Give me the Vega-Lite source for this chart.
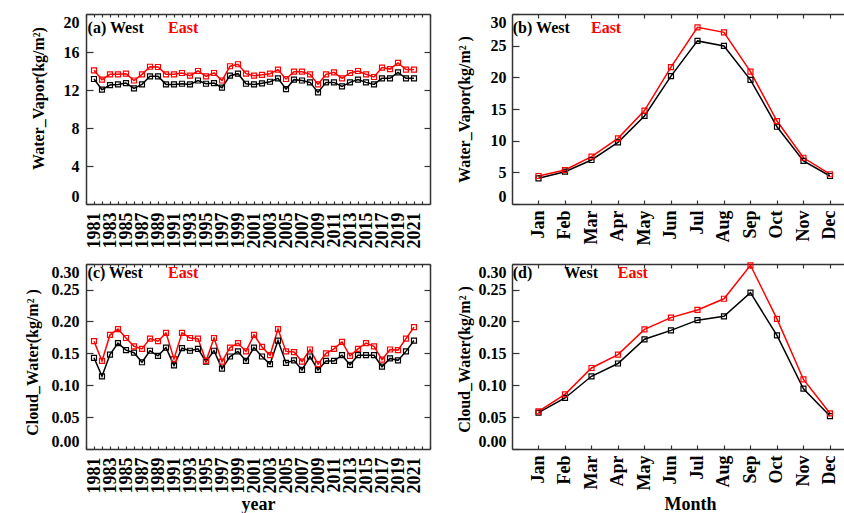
{
  "$schema": "https://vega.github.io/schema/vega-lite/v6.json",
  "padding": {"left": 23, "top": 13, "right": 0, "bottom": 0},
  "background": "white",
  "config": {
    "view": {"stroke": null},
    "font": "Liberation Serif",
    "axis": {
      "labelFont": "Liberation Serif", "labelFontWeight": "bold", "labelFontSize": 16, "labelColor": "black",
      "titleFont": "Liberation Serif", "titleFontWeight": "bold", "titleFontSize": 16, "titleColor": "black",
      "domainColor": "#333333", "domainWidth": 1.5, "tickColor": "#333333", "tickWidth": 1.2,
      "grid": false, "labelOverlap": false, "labelBound": false
    }
  },
  "datasets": {
    "annual": [
      {"year": 1981, "region": "West", "wv": 13.16, "cw": 0.143}, {"year": 1981, "region": "East", "wv": 14.07, "cw": 0.169},
      {"year": 1982, "region": "West", "wv": 12.03, "cw": 0.114}, {"year": 1982, "region": "East", "wv": 13.09, "cw": 0.138},
      {"year": 1983, "region": "West", "wv": 12.52, "cw": 0.148}, {"year": 1983, "region": "East", "wv": 13.65, "cw": 0.179},
      {"year": 1984, "region": "West", "wv": 12.59, "cw": 0.166}, {"year": 1984, "region": "East", "wv": 13.65, "cw": 0.188},
      {"year": 1985, "region": "West", "wv": 12.73, "cw": 0.155}, {"year": 1985, "region": "East", "wv": 13.72, "cw": 0.174},
      {"year": 1986, "region": "West", "wv": 12.17, "cw": 0.151}, {"year": 1986, "region": "East", "wv": 13.0, "cw": 0.161},
      {"year": 1987, "region": "West", "wv": 12.59, "cw": 0.136}, {"year": 1987, "region": "East", "wv": 13.65, "cw": 0.157},
      {"year": 1988, "region": "West", "wv": 13.44, "cw": 0.154}, {"year": 1988, "region": "East", "wv": 14.45, "cw": 0.173},
      {"year": 1989, "region": "West", "wv": 13.44, "cw": 0.146}, {"year": 1989, "region": "East", "wv": 14.42, "cw": 0.169},
      {"year": 1990, "region": "West", "wv": 12.59, "cw": 0.159}, {"year": 1990, "region": "East", "wv": 13.65, "cw": 0.182},
      {"year": 1991, "region": "West", "wv": 12.59, "cw": 0.131}, {"year": 1991, "region": "East", "wv": 13.65, "cw": 0.141},
      {"year": 1992, "region": "West", "wv": 12.66, "cw": 0.158}, {"year": 1992, "region": "East", "wv": 13.79, "cw": 0.182},
      {"year": 1993, "region": "West", "wv": 12.59, "cw": 0.154}, {"year": 1993, "region": "East", "wv": 13.51, "cw": 0.174},
      {"year": 1994, "region": "West", "wv": 13.0, "cw": 0.157}, {"year": 1994, "region": "East", "wv": 14.0, "cw": 0.173},
      {"year": 1995, "region": "West", "wv": 12.66, "cw": 0.137}, {"year": 1995, "region": "East", "wv": 13.44, "cw": 0.138},
      {"year": 1996, "region": "West", "wv": 12.73, "cw": 0.154}, {"year": 1996, "region": "East", "wv": 13.79, "cw": 0.174},
      {"year": 1997, "region": "West", "wv": 12.24, "cw": 0.126}, {"year": 1997, "region": "East", "wv": 13.0, "cw": 0.137},
      {"year": 1998, "region": "West", "wv": 13.51, "cw": 0.145}, {"year": 1998, "region": "East", "wv": 14.5, "cw": 0.159},
      {"year": 1999, "region": "West", "wv": 13.72, "cw": 0.153}, {"year": 1999, "region": "East", "wv": 14.71, "cw": 0.166},
      {"year": 2000, "region": "West", "wv": 12.66, "cw": 0.138}, {"year": 2000, "region": "East", "wv": 13.72, "cw": 0.153},
      {"year": 2001, "region": "West", "wv": 12.59, "cw": 0.159}, {"year": 2001, "region": "East", "wv": 13.51, "cw": 0.179},
      {"year": 2002, "region": "West", "wv": 12.7, "cw": 0.145}, {"year": 2002, "region": "East", "wv": 13.6, "cw": 0.16},
      {"year": 2003, "region": "West", "wv": 12.87, "cw": 0.133}, {"year": 2003, "region": "East", "wv": 13.72, "cw": 0.147},
      {"year": 2004, "region": "West", "wv": 13.23, "cw": 0.170}, {"year": 2004, "region": "East", "wv": 14.15, "cw": 0.188},
      {"year": 2005, "region": "West", "wv": 12.1, "cw": 0.135}, {"year": 2005, "region": "East", "wv": 13.16, "cw": 0.153},
      {"year": 2006, "region": "West", "wv": 13.09, "cw": 0.139}, {"year": 2006, "region": "East", "wv": 13.93, "cw": 0.152},
      {"year": 2007, "region": "West", "wv": 13.0, "cw": 0.124}, {"year": 2007, "region": "East", "wv": 13.93, "cw": 0.137},
      {"year": 2008, "region": "West", "wv": 12.8, "cw": 0.145}, {"year": 2008, "region": "East", "wv": 13.65, "cw": 0.156},
      {"year": 2009, "region": "West", "wv": 11.75, "cw": 0.124}, {"year": 2009, "region": "East", "wv": 12.6, "cw": 0.133},
      {"year": 2010, "region": "West", "wv": 12.8, "cw": 0.138}, {"year": 2010, "region": "East", "wv": 13.65, "cw": 0.150},
      {"year": 2011, "region": "West", "wv": 12.8, "cw": 0.138}, {"year": 2011, "region": "East", "wv": 13.86, "cw": 0.157},
      {"year": 2012, "region": "West", "wv": 12.38, "cw": 0.147}, {"year": 2012, "region": "East", "wv": 13.23, "cw": 0.168},
      {"year": 2013, "region": "West", "wv": 12.8, "cw": 0.132}, {"year": 2013, "region": "East", "wv": 13.79, "cw": 0.146},
      {"year": 2014, "region": "West", "wv": 13.09, "cw": 0.147}, {"year": 2014, "region": "East", "wv": 14.0, "cw": 0.157},
      {"year": 2015, "region": "West", "wv": 12.8, "cw": 0.147}, {"year": 2015, "region": "East", "wv": 13.65, "cw": 0.166},
      {"year": 2016, "region": "West", "wv": 12.59, "cw": 0.147}, {"year": 2016, "region": "East", "wv": 13.37, "cw": 0.161},
      {"year": 2017, "region": "West", "wv": 13.23, "cw": 0.129}, {"year": 2017, "region": "East", "wv": 14.36, "cw": 0.140},
      {"year": 2018, "region": "West", "wv": 13.23, "cw": 0.142}, {"year": 2018, "region": "East", "wv": 14.2, "cw": 0.156},
      {"year": 2019, "region": "West", "wv": 13.86, "cw": 0.139}, {"year": 2019, "region": "East", "wv": 14.85, "cw": 0.155},
      {"year": 2020, "region": "West", "wv": 13.23, "cw": 0.153}, {"year": 2020, "region": "East", "wv": 14.15, "cw": 0.173},
      {"year": 2021, "region": "West", "wv": 13.23, "cw": 0.170}, {"year": 2021, "region": "East", "wv": 14.15, "cw": 0.191}
    ],
    "monthly": [
      {"m": 1, "region": "West", "wv": 4.05, "cw": 0.057}, {"m": 1, "region": "East", "wv": 4.42, "cw": 0.059},
      {"m": 2, "region": "West", "wv": 5.1, "cw": 0.080}, {"m": 2, "region": "East", "wv": 5.37, "cw": 0.0856},
      {"m": 3, "region": "West", "wv": 6.95, "cw": 0.114}, {"m": 3, "region": "East", "wv": 7.48, "cw": 0.127},
      {"m": 4, "region": "West", "wv": 9.74, "cw": 0.134}, {"m": 4, "region": "East", "wv": 10.37, "cw": 0.148},
      {"m": 5, "region": "West", "wv": 13.9, "cw": 0.172}, {"m": 5, "region": "East", "wv": 14.75, "cw": 0.1875},
      {"m": 6, "region": "West", "wv": 20.2, "cw": 0.186}, {"m": 6, "region": "East", "wv": 21.6, "cw": 0.206},
      {"m": 7, "region": "West", "wv": 25.75, "cw": 0.202}, {"m": 7, "region": "East", "wv": 27.9, "cw": 0.218},
      {"m": 8, "region": "West", "wv": 24.96, "cw": 0.208}, {"m": 8, "region": "East", "wv": 27.1, "cw": 0.2355},
      {"m": 9, "region": "West", "wv": 19.6, "cw": 0.245}, {"m": 9, "region": "East", "wv": 20.9, "cw": 0.288},
      {"m": 10, "region": "West", "wv": 12.2, "cw": 0.178}, {"m": 10, "region": "East", "wv": 13.1, "cw": 0.204},
      {"m": 11, "region": "West", "wv": 6.8, "cw": 0.0945}, {"m": 11, "region": "East", "wv": 7.3, "cw": 0.109},
      {"m": 12, "region": "West", "wv": 4.42, "cw": 0.0516}, {"m": 12, "region": "East", "wv": 4.7, "cw": 0.056}
    ]
  },
  "columns": 2,
  "spacing": {"row": 60, "column": 82},
  "bounds": "flush",
  "concat": [
    {
      "width": 344, "height": 190,
      "data": {"name": "annual"},
      "layer": [
        {
          "mark": {"type": "line", "strokeWidth": 1.5, "point": {"shape": "square", "filled": false, "size": 25, "strokeWidth": 1.2}},
          "encoding": {
            "x": {"field": "year", "type": "quantitative", "scale": {"domain": [1980, 2023], "nice": false, "zero": false},
              "axis": {"orient": "bottom", "title": null, "values": [1980,1981,1982,1983,1984,1985,1986,1987,1988,1989,1990,1991,1992,1993,1994,1995,1996,1997,1998,1999,2000,2001,2002,2003,2004,2005,2006,2007,2008,2009,2010,2011,2012,2013,2014,2015,2016,2017,2018,2019,2020,2021,2022,2023],
                "labelExpr": "(datum.value % 2 == 1 && datum.value <= 2021) ? '' + datum.value : ''", "labelAngle": -90, "tickSize": -3, "labelPadding": 11, "labelFontSize": 18}},
            "y": {"field": "wv", "type": "quantitative", "scale": {"domain": [0, 20], "nice": false, "zero": false},
              "axis": {"orient": "left", "title": "Water_Vapor(kg/m²)", "values": [0, 4, 8, 12, 16, 20], "format": "d", "tickSize": -7, "labelPadding": 14, "labelFlush": true,
                "titleX": -43, "titleY": 84, "titleBaseline": "alphabetic", "titleAlign": "center"}},
            "color": {"field": "region", "type": "nominal", "scale": {"domain": ["West", "East"], "range": ["#000000", "#ff0000"]}, "legend": null}
          }
        },
        {
          "mark": {"type": "point", "opacity": 0},
          "encoding": {
            "x": {"field": "year", "type": "quantitative", "scale": {"domain": [1980, 2023], "nice": false, "zero": false},
              "axis": {"orient": "top", "title": null, "labels": false, "tickSize": -3, "values": [1980,1981,1982,1983,1984,1985,1986,1987,1988,1989,1990,1991,1992,1993,1994,1995,1996,1997,1998,1999,2000,2001,2002,2003,2004,2005,2006,2007,2008,2009,2010,2011,2012,2013,2014,2015,2016,2017,2018,2019,2020,2021,2022,2023]}},
            "y": {"field": "wv", "type": "quantitative", "scale": {"domain": [0, 20], "nice": false, "zero": false},
              "axis": {"orient": "right", "title": null, "labels": false, "tickSize": -6, "values": [4, 8, 12, 16]}}
          }
        },
        {
          "data": {"values": [{"t": "(a) West"}]},
          "mark": {"type": "text", "align": "left", "baseline": "alphabetic", "font": "Liberation Serif", "fontSize": 16, "fontWeight": "bold", "color": "black"},
          "encoding": {"text": {"field": "t"}, "x": {"datum": 1980.2, "axis": null}, "y": {"datum": 18.03, "axis": null}}
        },
        {
          "data": {"values": [{"t": "East"}]},
          "mark": {"type": "text", "align": "left", "baseline": "alphabetic", "font": "Liberation Serif", "fontSize": 16, "fontWeight": "bold", "color": "#ff0000"},
          "encoding": {"text": {"field": "t"}, "x": {"datum": 1990.25, "axis": null}, "y": {"datum": 18.03, "axis": null}}
        }
      ],
      "resolve": {"axis": {"x": "independent", "y": "independent"}}
    },
    {
      "width": 332, "height": 190,
      "data": {"name": "monthly"},
      "layer": [
        {
          "mark": {"type": "line", "strokeWidth": 1.5, "point": {"shape": "square", "filled": false, "size": 25, "strokeWidth": 1.2}},
          "encoding": {
            "x": {"field": "m", "type": "quantitative", "scale": {"domain": [0, 12.53], "nice": false, "zero": false},
              "axis": {"orient": "bottom", "title": null, "values": [1,2,3,4,5,6,7,8,9,10,11,12],
                "labelExpr": "['','Jan','Feb','Mar','Apr','May','Jun','Jul','Aug','Sep','Oct','Nov','Dec'][datum.value]", "labelAngle": -90, "tickSize": -4, "labelPadding": 10, "labelFontSize": 18}},
            "y": {"field": "wv", "type": "quantitative", "scale": {"domain": [0, 30], "nice": false, "zero": false},
              "axis": {"orient": "left", "title": "Water_Vapor(kg/m² )", "values": [0, 5, 10, 15, 20, 25, 30], "format": "d", "tickSize": -7, "labelPadding": 13, "labelFlush": true,
                "titleX": -43, "titleY": 95, "titleBaseline": "alphabetic", "titleAlign": "center"}},
            "color": {"field": "region", "type": "nominal", "scale": {"domain": ["West", "East"], "range": ["#000000", "#ff0000"]}, "legend": null}
          }
        },
        {
          "mark": {"type": "point", "opacity": 0},
          "encoding": {
            "x": {"field": "m", "type": "quantitative", "scale": {"domain": [0, 12.53], "nice": false, "zero": false},
              "axis": {"orient": "top", "title": null, "labels": false, "tickSize": -4, "values": [1,2,3,4,5,6,7,8,9,10,11,12]}},
            "y": {"field": "wv", "type": "quantitative", "scale": {"domain": [0, 30], "nice": false, "zero": false}, "axis": null}
          }
        },
        {
          "data": {"values": [{"t": "(b) West"}]},
          "mark": {"type": "text", "align": "left", "baseline": "alphabetic", "font": "Liberation Serif", "fontSize": 16, "fontWeight": "bold", "color": "black"},
          "encoding": {"text": {"field": "t"}, "x": {"datum": 0.03, "axis": null}, "y": {"datum": 27.05, "axis": null}}
        },
        {
          "data": {"values": [{"t": "East"}]},
          "mark": {"type": "text", "align": "left", "baseline": "alphabetic", "font": "Liberation Serif", "fontSize": 16, "fontWeight": "bold", "color": "#ff0000"},
          "encoding": {"text": {"field": "t"}, "x": {"datum": 2.98, "axis": null}, "y": {"datum": 27.05, "axis": null}}
        }
      ],
      "resolve": {"axis": {"x": "independent", "y": "independent"}}
    },
    {
      "width": 344, "height": 185,
      "data": {"name": "annual"},
      "layer": [
        {
          "mark": {"type": "line", "strokeWidth": 1.5, "point": {"shape": "square", "filled": false, "size": 25, "strokeWidth": 1.2}},
          "encoding": {
            "x": {"field": "year", "type": "quantitative", "scale": {"domain": [1980, 2023], "nice": false, "zero": false},
              "axis": {"orient": "bottom", "title": "year", "values": [1980,1981,1982,1983,1984,1985,1986,1987,1988,1989,1990,1991,1992,1993,1994,1995,1996,1997,1998,1999,2000,2001,2002,2003,2004,2005,2006,2007,2008,2009,2010,2011,2012,2013,2014,2015,2016,2017,2018,2019,2020,2021,2022,2023],
                "labelExpr": "(datum.value % 2 == 1 && datum.value <= 2021) ? '' + datum.value : ''", "labelAngle": -90, "tickSize": -3, "labelPadding": 11, "labelFontSize": 18,
                "titleX": 172, "titleY": 60, "titleBaseline": "alphabetic", "titleAlign": "center", "titleFontSize": 18}},
            "y": {"field": "cw", "type": "quantitative", "scale": {"domain": [0, 0.29], "nice": false, "zero": false},
              "axis": {"orient": "left", "title": "Cloud_Water(kg/m² )", "values": [0, 0.05, 0.1, 0.15, 0.2, 0.25, 0.29],
                "labelExpr": "datum.value > 0.28 ? '0.30' : format(datum.value, '.2f')", "tickSize": -7, "labelPadding": 14, "labelFlush": true,
                "titleX": -49, "titleY": 98, "titleBaseline": "alphabetic", "titleAlign": "center"}},
            "color": {"field": "region", "type": "nominal", "scale": {"domain": ["West", "East"], "range": ["#000000", "#ff0000"]}, "legend": null}
          }
        },
        {
          "mark": {"type": "point", "opacity": 0},
          "encoding": {
            "x": {"field": "year", "type": "quantitative", "scale": {"domain": [1980, 2023], "nice": false, "zero": false},
              "axis": {"orient": "top", "title": null, "labels": false, "tickSize": -3, "values": [1980,1981,1982,1983,1984,1985,1986,1987,1988,1989,1990,1991,1992,1993,1994,1995,1996,1997,1998,1999,2000,2001,2002,2003,2004,2005,2006,2007,2008,2009,2010,2011,2012,2013,2014,2015,2016,2017,2018,2019,2020,2021,2022,2023]}},
            "y": {"field": "cw", "type": "quantitative", "scale": {"domain": [0, 0.29], "nice": false, "zero": false},
              "axis": {"orient": "right", "title": null, "labels": false, "tickSize": -6, "values": [0.05, 0.1, 0.15, 0.2, 0.25]}}
          }
        },
        {
          "data": {"values": [{"t": "(c) West"}]},
          "mark": {"type": "text", "align": "left", "baseline": "alphabetic", "font": "Liberation Serif", "fontSize": 16, "fontWeight": "bold", "color": "black"},
          "encoding": {"text": {"field": "t"}, "x": {"datum": 1980.2, "axis": null}, "y": {"datum": 0.2676, "axis": null}}
        },
        {
          "data": {"values": [{"t": "East"}]},
          "mark": {"type": "text", "align": "left", "baseline": "alphabetic", "font": "Liberation Serif", "fontSize": 16, "fontWeight": "bold", "color": "#ff0000"},
          "encoding": {"text": {"field": "t"}, "x": {"datum": 1990.25, "axis": null}, "y": {"datum": 0.2676, "axis": null}}
        }
      ],
      "resolve": {"axis": {"x": "independent", "y": "independent"}}
    },
    {
      "width": 332, "height": 185,
      "data": {"name": "monthly"},
      "layer": [
        {
          "mark": {"type": "line", "strokeWidth": 1.5, "point": {"shape": "square", "filled": false, "size": 25, "strokeWidth": 1.2}},
          "encoding": {
            "x": {"field": "m", "type": "quantitative", "scale": {"domain": [0, 12.53], "nice": false, "zero": false},
              "axis": {"orient": "bottom", "title": "Month", "values": [1,2,3,4,5,6,7,8,9,10,11,12],
                "labelExpr": "['','Jan','Feb','Mar','Apr','May','Jun','Jul','Aug','Sep','Oct','Nov','Dec'][datum.value]", "labelAngle": -90, "tickSize": -4, "labelPadding": 10, "labelFontSize": 18,
                "titleX": 178, "titleY": 60, "titleBaseline": "alphabetic", "titleAlign": "center", "titleFontSize": 18}},
            "y": {"field": "cw", "type": "quantitative", "scale": {"domain": [0, 0.29], "nice": false, "zero": false},
              "axis": {"orient": "left", "title": "Cloud_Water(kg/m² )", "values": [0, 0.05, 0.1, 0.15, 0.2, 0.25, 0.29],
                "labelExpr": "datum.value > 0.28 ? '0.30' : format(datum.value, '.2f')", "tickSize": -7, "labelPadding": 13, "labelFlush": true,
                "titleX": -43, "titleY": 95, "titleBaseline": "alphabetic", "titleAlign": "center"}},
            "color": {"field": "region", "type": "nominal", "scale": {"domain": ["West", "East"], "range": ["#000000", "#ff0000"]}, "legend": null}
          }
        },
        {
          "mark": {"type": "point", "opacity": 0},
          "encoding": {
            "x": {"field": "m", "type": "quantitative", "scale": {"domain": [0, 12.53], "nice": false, "zero": false},
              "axis": {"orient": "top", "title": null, "labels": false, "tickSize": -4, "values": [1,2,3,4,5,6,7,8,9,10,11,12]}},
            "y": {"field": "cw", "type": "quantitative", "scale": {"domain": [0, 0.29], "nice": false, "zero": false}, "axis": null}
          }
        },
        {
          "data": {"values": [{"t": "(d)"}]},
          "mark": {"type": "text", "align": "left", "baseline": "alphabetic", "font": "Liberation Serif", "fontSize": 16, "fontWeight": "bold", "color": "black"},
          "encoding": {"text": {"field": "t"}, "x": {"datum": 0.03, "axis": null}, "y": {"datum": 0.2676, "axis": null}}
        },
        {
          "data": {"values": [{"t": "West"}]},
          "mark": {"type": "text", "align": "left", "baseline": "alphabetic", "font": "Liberation Serif", "fontSize": 16, "fontWeight": "bold", "color": "black"},
          "encoding": {"text": {"field": "t"}, "x": {"datum": 1.97, "axis": null}, "y": {"datum": 0.2676, "axis": null}}
        },
        {
          "data": {"values": [{"t": "East"}]},
          "mark": {"type": "text", "align": "left", "baseline": "alphabetic", "font": "Liberation Serif", "fontSize": 16, "fontWeight": "bold", "color": "#ff0000"},
          "encoding": {"text": {"field": "t"}, "x": {"datum": 3.99, "axis": null}, "y": {"datum": 0.2676, "axis": null}}
        }
      ],
      "resolve": {"axis": {"x": "independent", "y": "independent"}}
    }
  ]
}
